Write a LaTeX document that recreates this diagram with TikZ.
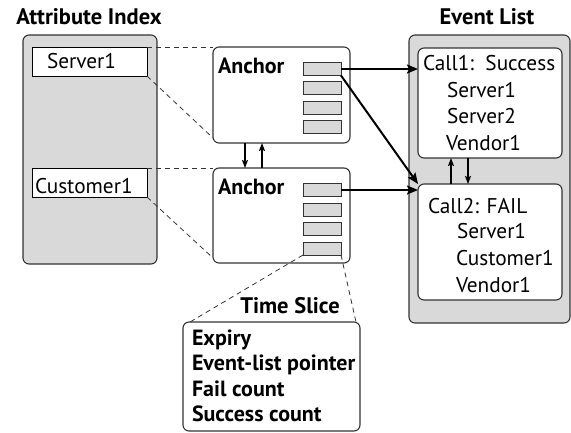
\documentclass[tikz,border=0pt]{standalone}
\usepackage{fontspec}
\setmainfont{PT Sans}
\usetikzlibrary{arrows.meta}
\definecolor{panelgray}{HTML}{D9D9D9}
\definecolor{edge}{HTML}{333333}
\begin{document}
\begin{tikzpicture}[x=1pt,y=-1pt,
  every node/.style={inner sep=0pt,outer sep=0pt},
  txt/.style={anchor=base west,font=\fontsize{21.3}{24}\selectfont},
  btxt/.style={anchor=base west,font=\fontsize{22}{24}\selectfont\bfseries},
  title/.style={anchor=base,font=\fontsize{22.5}{24}\selectfont\bfseries},
  panel/.style={draw=edge,line width=1.1pt,fill=panelgray,rounded corners=6pt,anchor=north west},
  card/.style={draw=edge,line width=1.1pt,fill=white,rounded corners=6pt,anchor=north west},
  keybox/.style={draw=black,line width=1pt,fill=white,anchor=north west,minimum width=115pt,minimum height=29pt},
  slot/.style={draw=edge,line width=1pt,fill=panelgray,anchor=north west,minimum width=38pt,minimum height=13pt},
  link/.style={draw=edge,line width=0.8pt,dash pattern=on 5pt off 4pt},
  ptr/.style={line width=2pt,-{Stealth[length=11pt,width=9pt,inset=2pt]}},
  hop/.style={line width=1.3pt,-{Stealth[length=8pt,width=6pt,inset=1.5pt]}}]
\useasboundingbox (0,0) rectangle (571,432);

% attribute index panel
\node[title] (attrtitle) at (89,24) {Attribute Index};
\node[panel,minimum width=134pt,minimum height=229pt] (attr) at (23,35) {};
\node[keybox] (srv) at (32,47) {};
\node[txt] (srvtxt) at (47,68) {Server1};
\node[keybox] (cus) at (32,168) {};
\node[txt] (custxt) at (35,193) {Customer1};

% anchors
\node[card,minimum width=137pt,minimum height=96pt] (anc1) at (213,47) {};
\node[btxt] (anc1txt) at (218,73) {Anchor};
\node[card,minimum width=137pt,minimum height=95pt] (anc2) at (213,168) {};
\node[btxt] (anc2txt) at (218,194) {Anchor};

\node[slot] (a1s1) at (303,62.5) {};
\node[slot] (a1s2) at (303,81.5) {};
\node[slot] (a1s3) at (303,101) {};
\node[slot] (a1s4) at (303,120.5) {};
\node[slot] (a2s1) at (303,183.5) {};
\node[slot] (a2s2) at (303,203) {};
\node[slot] (a2s3) at (303,222.5) {};
\node[slot] (a2s4) at (303,242) {};

% event list panel
\node[title] (evtitle) at (487,24) {Event List};
\node[panel,minimum width=161pt,minimum height=288pt] (evl) at (409,35) {};
\node[card,minimum width=144pt,minimum height=110pt] (call1) at (418,48) {};
\node[txt] (c1a) at (423,70) {Call1:\ \ Success};
\node[txt] (c1b) at (447,97) {Server1};
\node[txt] (c1c) at (447,123) {Server2};
\node[txt] (c1d) at (446,150) {Vendor1};
\node[card,minimum width=144pt,minimum height=116pt] (call2) at (418,184) {};
\node[txt] (c2a) at (428,213) {Call2: FAIL};
\node[txt] (c2b) at (457,238) {Server1};
\node[txt] (c2c) at (456,265) {Customer1};
\node[txt] (c2d) at (456,292) {Vendor1};

% time slice record
\node[title] (tstitle) at (290,313) {Time Slice};
\node[card,minimum width=177pt,minimum height=109pt] (ts) at (183,322) {};
\node[btxt] (ts1) at (192,345) {Expiry};
\node[btxt] (ts2) at (192,370) {Event-list pointer};
\node[btxt] (ts3) at (192,396) {Fail count};
\node[btxt] (ts4) at (192,421) {Success count};

% index-to-anchor guides
\draw[link] (srv.north east) -- (anc1.north west);
\draw[link] (srv.south east) -- ([yshift=5pt]anc1.south west);
\draw[link] (cus.north east) -- (anc2.north west);
\draw[link] (cus.south east) -- ([yshift=5pt]anc2.south west);
\draw[link] (a2s4.south west) -- ([xshift=7pt]ts.north west);
\draw[link] (a2s4.south east) -- ([xshift=-4pt]ts.north east);

% pointers into the event list
\draw[ptr] (a1s1.east) -- (a1s1.east -| call1.west);
\draw[ptr] (a1s1.south east) -- (call2.north west);
\draw[ptr] (a2s1.east) -- (a2s1.east -| call2.west);

% anchor and call chains
\draw[hop] ([xshift=-36.5pt]anc1.south) -- ([xshift=-36.5pt]anc2.north);
\draw[hop] ([xshift=-19.5pt]anc2.north) -- ([xshift=-19.5pt]anc1.south);
\draw[hop] ([xshift=-39pt]call2.north) -- ([xshift=-39pt]call1.south);
\draw[hop] ([xshift=-22pt]call1.south) -- ([xshift=-22pt]call2.north);
\end{tikzpicture}
\end{document}
